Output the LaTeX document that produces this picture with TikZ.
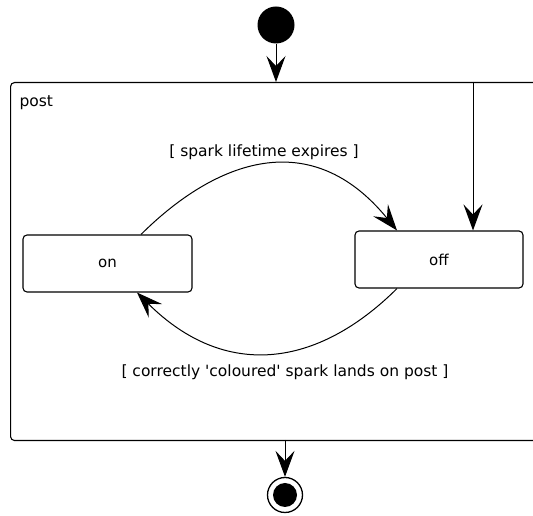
\documentclass[tikz,border=0pt]{standalone}
\usepackage{fontspec}
\setmainfont{DejaVu Sans}
\usetikzlibrary{arrows.meta,positioning}

\begin{document}
\begin{tikzpicture}[x=1pt, y=1pt,
				state boxes/.style={draw, rectangle,%
                line width=1.1pt, rounded corners=4pt,
                minimum height=57pt, minimum width=168pt,
                black, text=black, anchor=center, align=center,
                font=\fontsize{15}{18}\selectfont},
                outer box/.style={draw, rectangle, line width=1.1pt,
                rounded corners=4pt, minimum width=560pt, minimum height=358pt,
                anchor=north west},
    			% start and end markers
   				init dot/.style={circle, fill=black, minimum size=37pt, inner sep=0pt},
    			final ring/.style={circle, draw, line width=1.3pt, fill=white, minimum size=35pt, inner sep=0pt},
    			final dot/.style={circle, fill=black, minimum size=24pt, inner sep=0pt},
    			guard/.style={font=\fontsize{15.5}{18}\selectfont},
    			trans/.style={line width=1pt, -{Stealth[length=26pt, width=19pt, inset=10pt]}}
    			]
  \useasboundingbox (0,0) rectangle (533,516);
  \clip (0,0) rectangle (533,516);

  \node (post) [outer box] at (10,434) {};
  \node (postlbl) [guard, anchor=west] at (16,413) {post};

  \node (init) [init dot] at (276,491) {};
  \node (final) [final ring] at (285,21) {};
  \node (finaldot) [final dot] at (final) {};

  \node (on) [state boxes, minimum width=169pt] at (107.5,252.5) {on};
  \node (off) [state boxes] at (439,256.5) {off};

  \coordinate (split) at (473,434);
  \coordinate (exit) at (285,76);

%% Entry and exit
\draw [trans](init)--(init |- post.north);
\draw [trans](split)--(split |- off.north);
\draw [trans](exit)--(final);

%%
%%%%% on <-> off
\draw [trans](on.north -| 141,0) .. controls (216,356) and (311,391) .. (off.north -| 397,0);
\draw [trans](off.south -| 397,0) .. controls (317,148) and (225,136) .. (on.south -| 137,0);

%% Guards
\node (g1) [guard] at (264,364) {[ spark lifetime expires ]};
\node (g2) [guard] at (285,144) {[ correctly \textquotesingle coloured\textquotesingle\ spark lands on post ]};

\end{tikzpicture}
\end{document}
